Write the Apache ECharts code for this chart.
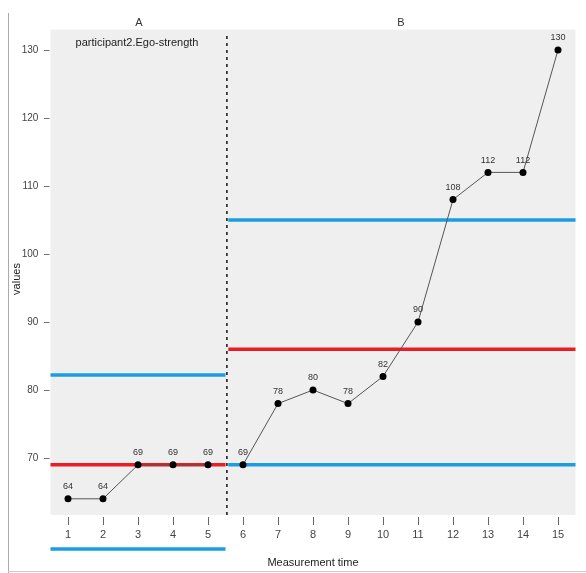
<!DOCTYPE html>
<html>
<head>
<meta charset="utf-8">
<script src="https://cdn.jsdelivr.net/npm/echarts@6/dist/echarts.min.js"></script>
<style>
html,body{margin:0;padding:0;background:#fff;}
#chart{width:586px;height:573px;}
</style>
</head>
<body>
<div id="chart"></div>
<script>
// ---- data ----
const categories = ['1','2','3','4','5','6','7','8','9','10','11','12','13','14','15'];
const phaseAx = [1, 2, 3, 4, 5];
const phaseAvalues = [64, 64, 69, 69, 69];
const phaseBx = [6, 7, 8, 9, 10, 11, 12, 13, 14, 15];
const phaseBvalues = [69, 78, 80, 78, 82, 90, 108, 112, 112, 130];
const phaseNames = ['A', 'B'];
const phaseAspan = [0.5, 5.5];
const phaseBspan = [5.58, 15.5];
const phaseChange = 5.54;
const medianA = 69;
const medianB = 86;
const bandA = [56.6, 82.2];
const bandB = [69, 105];
const yTickLabels = [70, 80, 90, 100, 110, 120, 130];
const panelY = [61.6, 133];

const FONT = '"Liberation Sans", Arial, sans-serif';
const RED = '#ec1c24';
const BLUE = '#1b9de2';

function pairs(xs, ys) { return xs.map((x, i) => [x, ys[i]]); }
function hline(span, v, color, name) {
  return {
    name: name, type: 'line', xAxisIndex: 0, yAxisIndex: 0,
    data: [[span[0], v], [span[1], v]],
    symbol: 'none', silent: true, z: 3,
    lineStyle: { color: color, width: 3.5 }
  };
}
function dataSeries(name, xs, ys) {
  return {
    name: name, type: 'line', xAxisIndex: 0, yAxisIndex: 0,
    data: pairs(xs, ys),
    symbol: 'circle', symbolSize: 7, z: 5,
    itemStyle: { color: '#000' },
    lineStyle: { color: '#555', width: 1 },
    label: { show: true, position: 'top', distance: 4, fontSize: 9, color: '#333', fontFamily: FONT,
             formatter: p => p.value[1] }
  };
}

const chart = echarts.init(document.getElementById('chart'));
chart.setOption({
  animation: false,
  backgroundColor: '#fff',
  grid: { left: 50.5, right: 10.5, top: 29.6, bottom: 13 },
  xAxis: [
    { type: 'value', min: 0.5, max: 15.5, show: false },
    { type: 'category', data: categories, position: 'bottom', offset: -35,
      boundaryGap: true,
      axisLine: { show: false },
      axisTick: { show: true, alignWithLabel: true, inside: true, length: 8, lineStyle: { color: '#666' } },
      axisLabel: { margin: 4, fontSize: 11, color: '#444', fontFamily: FONT },
      splitLine: { show: false } }
  ],
  yAxis: {
    type: 'value', min: 55, max: 133, interval: 5,
    axisLine: { show: false }, axisTick: { show: false }, splitLine: { show: false },
    axisLabel: { margin: 1, fontSize: 10, color: '#444', fontFamily: FONT,
      formatter: v => yTickLabels.indexOf(v) >= 0 ? v + '  \u2013' : '' }
  },
  series: [
    {
      name: 'phase change', type: 'line', xAxisIndex: 0, yAxisIndex: 0,
      data: [[phaseChange, panelY[0]], [phaseChange, panelY[1] - 0.4]],
      symbol: 'none', silent: true, z: 4,
      lineStyle: { color: '#111', width: 1.5, type: [3, 4] },
      markArea: {
        silent: true,
        itemStyle: { color: '#efefef' },
        data: [[{ coord: [0.5, panelY[0]] }, { coord: [15.5, panelY[1]] }]]
      }
    },
    hline(phaseAspan, bandA[1], BLUE, 'A upper'),
    hline(phaseAspan, bandA[0], BLUE, 'A lower'),
    hline(phaseAspan, medianA, RED, 'A median'),
    hline(phaseBspan, bandB[1], BLUE, 'B upper'),
    hline(phaseBspan, bandB[0], BLUE, 'B lower'),
    hline(phaseBspan, medianB, RED, 'B median'),
    dataSeries('A', phaseAx, phaseAvalues),
    dataSeries('B', phaseBx, phaseBvalues)
  ],
  graphic: [
    { type: 'line', z: 100, shape: { x1: 8.5, y1: 13, x2: 8.5, y2: 573 }, style: { stroke: '#aaa', lineWidth: 1 } },
    { type: 'line', z: 100, shape: { x1: 8, y1: 571.5, x2: 586, y2: 571.5 }, style: { stroke: '#ccc', lineWidth: 1 } },
    { type: 'text', z: 100, x: 139, y: 23, style: { text: phaseNames[0], font: '11px ' + FONT, fill: '#333', textAlign: 'center', textVerticalAlign: 'middle' } },
    { type: 'text', z: 100, x: 401, y: 23, style: { text: phaseNames[1], font: '11px ' + FONT, fill: '#333', textAlign: 'center', textVerticalAlign: 'middle' } },
    { type: 'text', z: 100, x: 137, y: 43, style: { text: 'participant2.Ego-strength', font: '11px ' + FONT, fill: '#222', textAlign: 'center', textVerticalAlign: 'middle' } },
    { type: 'text', z: 100, x: 17, y: 279, rotation: Math.PI / 2, style: { text: 'values', font: '11px ' + FONT, fill: '#222', textAlign: 'center', textVerticalAlign: 'middle' } },
    { type: 'text', z: 100, x: 313, y: 563, style: { text: 'Measurement time', font: '11px ' + FONT, fill: '#222', textAlign: 'center', textVerticalAlign: 'middle' } }
  ]
});
</script>
</body>
</html>
